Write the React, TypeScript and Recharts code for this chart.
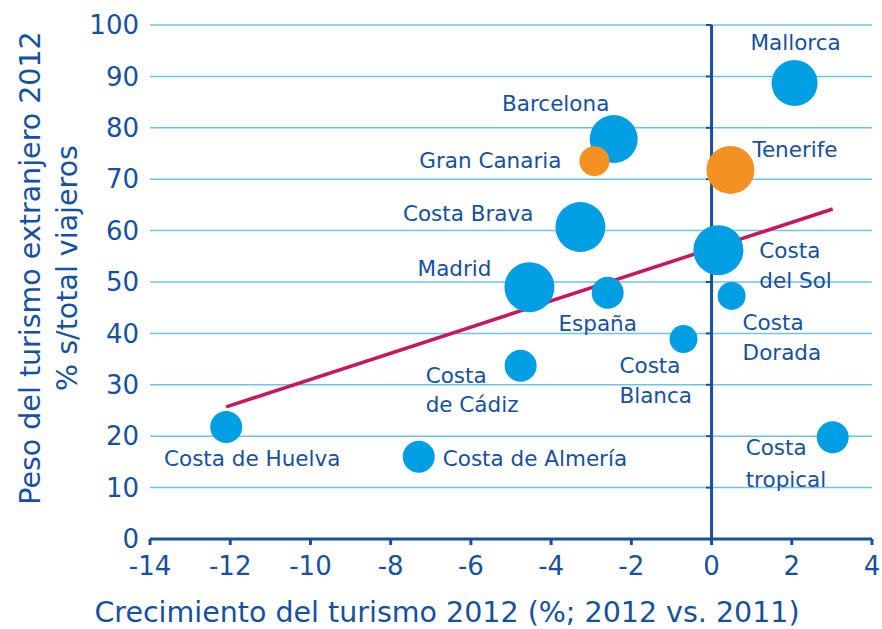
import {
  ScatterChart,
  Scatter,
  XAxis,
  YAxis,
  ZAxis,
  CartesianGrid,
  ReferenceLine,
  Cell,
  Label,
} from "recharts"

const places = [
  "Mallorca",
  "Barcelona",
  "Gran Canaria",
  "Tenerife",
  "Costa Brava",
  "Costa del Sol",
  "Madrid",
  "España",
  "Costa Dorada",
  "Costa Blanca",
  "Costa de Cádiz",
  "Costa de Huelva",
  "Costa de Almería",
  "Costa tropical",
]
const growth = [2.07, -2.44, -2.92, 0.47, -3.27, 0.17, -4.54, -2.59, 0.5, -0.7, -4.76, -12.1, -7.3, 3.02]
const foreignShare = [88.7, 77.8, 73.5, 71.8, 60.7, 56.2, 49.0, 47.9, 47.3, 38.9, 33.7, 21.8, 16.0, 19.8]
const bubbleSize = [529, 576, 225, 576, 625, 625, 625, 256, 196, 196, 256, 256, 256, 256]
const canary = ["Gran Canaria", "Tenerife"]

const xTicks = [-14, -12, -10, -8, -6, -4, -2, 0, 2, 4]
const yTicks = [0, 10, 20, 30, 40, 50, 60, 70, 80, 90, 100]
const trend = [
  { x: -12.1, y: 25.7 },
  { x: 3.02, y: 64.2 },
]

const BLUE_TEXT = "#1650a0"
const AXIS = "#1b4f9e"
const GRID = "#6cc4ec"
const BUBBLE = "#009fe3"
const ORANGE = "#f39122"
const TREND = "#c8175d"
const FONT = "'DejaVu Sans', sans-serif"

// label placement: anchor, dx, and one dy per line
const labelPlace: Record<string, { anchor: string; dx: number; lines: [string, number][] }> = {
  Mallorca: { anchor: "middle", dx: 1, lines: [["Mallorca", -33]] },
  Barcelona: { anchor: "middle", dx: -58, lines: [["Barcelona", -28]] },
  "Gran Canaria": { anchor: "end", dx: -33, lines: [["Gran Canaria", 7]] },
  Tenerife: { anchor: "start", dx: 22, lines: [["Tenerife", -13]] },
  "Costa Brava": { anchor: "end", dx: -47, lines: [["Costa Brava", -6]] },
  "Costa del Sol": { anchor: "start", dx: 41, lines: [["Costa", 8], ["del Sol", 38]] },
  Madrid: { anchor: "end", dx: -38, lines: [["Madrid", -11]] },
  España: { anchor: "middle", dx: -10, lines: [["España", 38]] },
  "Costa Dorada": { anchor: "start", dx: 11, lines: [["Costa", 34], ["Dorada", 64]] },
  "Costa Blanca": { anchor: "start", dx: -64, lines: [["Costa", 34], ["Blanca", 64]] },
  "Costa de Cádiz": { anchor: "start", dx: -95, lines: [["Costa", 17], ["de Cádiz", 46]] },
  "Costa de Huelva": { anchor: "middle", dx: 26, lines: [["Costa de Huelva", 39]] },
  "Costa de Almería": { anchor: "start", dx: 24, lines: [["Costa de Almería", 9]] },
  "Costa tropical": { anchor: "start", dx: -87, lines: [["Costa", 18], ["tropical", 50]] },
}

const data = places.map((name, i) => ({
  name,
  x: growth[i],
  y: foreignShare[i],
  z: bubbleSize[i],
}))

function Bubble(props: any) {
  const { cx, cy, size, fill } = props
  const r = Math.sqrt((size || 0) / Math.PI)
  return <circle cx={cx} cy={cy} r={r} fill={fill} />
}

function BubbleLabel(props: any) {
  const { cx, cy, payload } = props
  const p = labelPlace[payload.name]
  if (!p) return null
  return (
    <g>
      {p.lines.map(([t, dy]) => (
        <text
          key={t}
          x={cx + p.dx}
          y={cy + dy}
          textAnchor={p.anchor as any}
          fill={BLUE_TEXT}
          fontSize={21.5}
          fontFamily={FONT}
        >
          {t}
        </text>
      ))}
    </g>
  )
}

function YTitle() {
  const cy = 268
  return (
    <g fill={BLUE_TEXT} fontSize={28.5} fontFamily={FONT}>
      <text x={30} y={cy} transform={`rotate(-90 30 ${cy})`} textAnchor="middle" dominantBaseline="central">
        Peso del turismo extranjero 2012
      </text>
      <text x={67} y={cy} transform={`rotate(-90 67 ${cy})`} textAnchor="middle" dominantBaseline="central">
        % s/total viajeros
      </text>
    </g>
  )
}

function XTitle() {
  return (
    <text x={447} y={622} textAnchor="middle" fill={BLUE_TEXT} fontSize={28.5} fontFamily={FONT}>
      Crecimiento del turismo 2012 (%; 2012 vs. 2011)
    </text>
  )
}

export default function App() {
  return (
    <div style={{ position: "absolute", left: 0, top: 0, width: 882, height: 629, background: "#fff" }}>
      <ScatterChart width={882} height={629} margin={{ top: 25, right: 10, left: 90, bottom: 50 }}>
        <CartesianGrid horizontal vertical={false} stroke={GRID} strokeWidth={1.5} />
        <XAxis
          type="number"
          dataKey="x"
          domain={[-14, 4]}
          ticks={xTicks}
          height={40}
          stroke={AXIS}
          strokeWidth={3}
          tickSize={6}
          tick={{ fill: BLUE_TEXT, fontSize: 26, fontFamily: FONT }}
          tickMargin={12}
        >
          <Label content={<XTitle />} />
        </XAxis>
        <YAxis
          type="number"
          dataKey="y"
          domain={[0, 100]}
          ticks={yTicks}
          width={60}
          axisLine={false}
          tickLine={false}
          tick={{ fill: BLUE_TEXT, fontSize: 26, fontFamily: FONT }}
          tickMargin={5}
        >
          <Label content={<YTitle />} />
        </YAxis>
        <ZAxis type="number" dataKey="z" domain={[0, 625]} range={[0, Math.PI * 625]} />
        <ReferenceLine x={0} stroke={AXIS} strokeWidth={3} />
        {yTicks.slice(1).map((t) => (
          <ReferenceLine
            key={t}
            segment={[
              { x: -0.14, y: t },
              { x: 0, y: t },
            ]}
            stroke={AXIS}
            strokeWidth={2}
          />
        ))}
        <ReferenceLine segment={trend} stroke={TREND} strokeWidth={3.5} />
        <Scatter data={data} shape={<Bubble />} isAnimationActive={false}>
          {data.map((d) => (
            <Cell key={d.name} fill={canary.includes(d.name) ? ORANGE : BUBBLE} />
          ))}
        </Scatter>
        <Scatter data={data} shape={<BubbleLabel />} isAnimationActive={false} />
      </ScatterChart>
    </div>
  )
}
